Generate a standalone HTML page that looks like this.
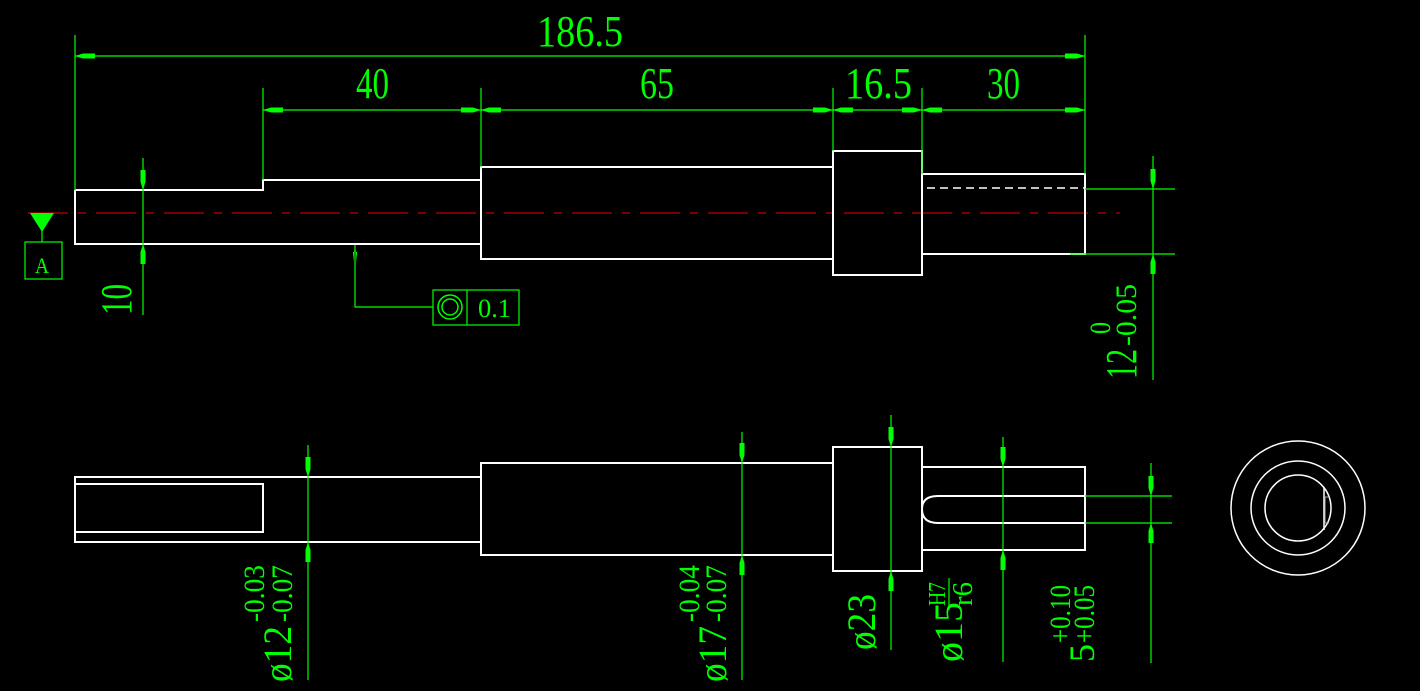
<!DOCTYPE html>
<html><head><meta charset="utf-8"><style>
html,body{margin:0;padding:0;background:#000;width:1420px;height:691px;overflow:hidden}
svg{display:block}
text{font-family:"Liberation Serif",serif;fill:#0f0}
</style></head><body>
<svg width="1420" height="691" viewBox="0 0 1420 691" xmlns="http://www.w3.org/2000/svg">
<defs>
<marker id="a" viewBox="0 0 20 6" refX="20" refY="3" markerWidth="20" markerHeight="6" markerUnits="userSpaceOnUse" orient="auto-start-reverse"><path d="M0,0.5 L12,0.5 L20,3 L12,5.5 L0,5.5Z" fill="#0f0"/></marker>
</defs>
<line x1="28" y1="213" x2="1120" y2="213" stroke="#e00" stroke-width="1" stroke-dasharray="40,10,8,10"/>
<g fill="none" stroke="#fff" stroke-width="2">
<polyline points="75,190 263,190 263,180 481,180"/>
<polyline points="75,190 75,244 481,244"/>
<rect x="481" y="167" width="352" height="92"/>
<rect x="833" y="151" width="89" height="124"/>
<rect x="922" y="174" width="163" height="80"/>
</g>
<line x1="927" y1="188" x2="1085" y2="188" stroke="#fff" stroke-width="1.5" stroke-dasharray="8,5"/>
<g stroke="#0f0" stroke-width="1.2" fill="none">
<line x1="75" y1="35" x2="75" y2="190"/>
<line x1="1085" y1="35" x2="1085" y2="174"/>
<line x1="263" y1="88" x2="263" y2="180"/>
<line x1="481" y1="88" x2="481" y2="167"/>
<line x1="833" y1="88" x2="833" y2="151"/>
<line x1="922" y1="88" x2="922" y2="174"/>
<line x1="75" y1="56" x2="1085" y2="56" marker-start="url(#a)" marker-end="url(#a)"/>
<line x1="263" y1="110" x2="481" y2="110" marker-start="url(#a)" marker-end="url(#a)"/>
<line x1="481" y1="110" x2="833" y2="110" marker-start="url(#a)" marker-end="url(#a)"/>
<line x1="833" y1="110" x2="922" y2="110" marker-start="url(#a)" marker-end="url(#a)"/>
<line x1="922" y1="110" x2="1085" y2="110" marker-start="url(#a)" marker-end="url(#a)"/>
<line x1="143" y1="158" x2="143" y2="190" marker-end="url(#a)"/>
<line x1="143" y1="315" x2="143" y2="244" marker-end="url(#a)"/>
<line x1="143" y1="190" x2="143" y2="244"/>
<line x1="1085" y1="189" x2="1175" y2="189"/>
<line x1="1070" y1="254" x2="1175" y2="254"/>
<line x1="1153" y1="156" x2="1153" y2="189" marker-end="url(#a)"/>
<line x1="1153" y1="380" x2="1153" y2="254" marker-end="url(#a)"/>
<line x1="1153" y1="189" x2="1153" y2="254"/>
<line x1="42" y1="225" x2="42" y2="242"/>
<rect x="25" y="242" width="37" height="37"/>
<polyline points="433,307 355,307 355,245" />
<rect x="433" y="290" width="86" height="35"/>
<line x1="467" y1="290" x2="467" y2="325"/>
<circle cx="450" cy="307" r="12" stroke-width="1.5"/>
<circle cx="450" cy="307" r="8" stroke-width="1.5"/>
</g>
<path d="M355,245 L353,262 L357,262Z M353,252 h4 v10 h-4z" fill="#0f0"/>
<polygon points="30,213 54,213 42,232" fill="#0f0"/>
<text x="35" y="273" font-size="22" textLength="14" lengthAdjust="spacingAndGlyphs">A</text>
<text x="478" y="317" font-size="26" textLength="33" lengthAdjust="spacingAndGlyphs">0.1</text>
<text x="537" y="46" font-size="44" textLength="86" lengthAdjust="spacingAndGlyphs">186.5</text>
<text x="356" y="98" font-size="44" textLength="33" lengthAdjust="spacingAndGlyphs">40</text>
<text x="640" y="98" font-size="44" textLength="34" lengthAdjust="spacingAndGlyphs">65</text>
<text x="845" y="98" font-size="44" textLength="67" lengthAdjust="spacingAndGlyphs">16.5</text>
<text x="987" y="98" font-size="44" textLength="33" lengthAdjust="spacingAndGlyphs">30</text>
<text transform="translate(131,315) rotate(-90)" font-size="44" textLength="31" lengthAdjust="spacingAndGlyphs">10</text>
<text transform="translate(1136,379) rotate(-90)" font-size="44" textLength="30" lengthAdjust="spacingAndGlyphs">12</text>
<text transform="translate(1136,346) rotate(-90)" font-size="30" textLength="62" lengthAdjust="spacingAndGlyphs">-0.05</text>
<text transform="translate(1110,334) rotate(-90)" font-size="30" textLength="12" lengthAdjust="spacingAndGlyphs">0</text>
<g fill="none" stroke="#fff" stroke-width="2">
<polyline points="481,477 75,477 75,542 481,542"/>
<rect x="75" y="484" width="188" height="48"/>
<rect x="481" y="463" width="352" height="92"/>
<rect x="833" y="447" width="89" height="124"/>
<rect x="922" y="467" width="163" height="83"/>
<path d="M1085,496 L938,496 Q922,496 922,509 Q922,523 938,523 L1085,523"/>
<circle cx="1298" cy="508" r="67" stroke-width="1.5"/>
<circle cx="1298" cy="508" r="47" stroke-width="1.5"/>
<circle cx="1298" cy="508" r="33" stroke-width="1.5"/>
<line x1="1324" y1="487" x2="1324" y2="530" stroke-width="1.5"/>
</g>
<path d="M1325,497 h4 M1325,523 h4 M1325,497 v26" stroke="#aaa" stroke-width="1" fill="none"/>
<g stroke="#0f0" stroke-width="1.2" fill="none">
<line x1="308" y1="445" x2="308" y2="477" marker-end="url(#a)"/>
<line x1="308" y1="680" x2="308" y2="542" marker-end="url(#a)"/>
<line x1="308" y1="477" x2="308" y2="542"/>
<line x1="742" y1="432" x2="742" y2="463" marker-end="url(#a)"/>
<line x1="742" y1="680" x2="742" y2="555" marker-end="url(#a)"/>
<line x1="742" y1="463" x2="742" y2="555"/>
<line x1="891" y1="415" x2="891" y2="447" marker-end="url(#a)"/>
<line x1="891" y1="650" x2="891" y2="571" marker-end="url(#a)"/>
<line x1="891" y1="447" x2="891" y2="571"/>
<line x1="1003" y1="437" x2="1003" y2="467" marker-end="url(#a)"/>
<line x1="1003" y1="662" x2="1003" y2="550" marker-end="url(#a)"/>
<line x1="1003" y1="467" x2="1003" y2="550"/>
<line x1="1085" y1="496" x2="1172" y2="496"/>
<line x1="1085" y1="523" x2="1172" y2="523"/>
<line x1="1151" y1="463" x2="1151" y2="496" marker-end="url(#a)"/>
<line x1="1151" y1="663" x2="1151" y2="523" marker-end="url(#a)"/>
<line x1="1151" y1="496" x2="1151" y2="523"/>
<line x1="949" y1="578" x2="949" y2="610"/>
</g>
<text transform="translate(291,682) rotate(-90)" font-size="40" textLength="56" lengthAdjust="spacingAndGlyphs">ø12</text>
<text transform="translate(292,622) rotate(-90)" font-size="30" textLength="57" lengthAdjust="spacingAndGlyphs">-0.07</text>
<text transform="translate(264,622) rotate(-90)" font-size="30" textLength="57" lengthAdjust="spacingAndGlyphs">-0.03</text>
<text transform="translate(726,682) rotate(-90)" font-size="40" textLength="56" lengthAdjust="spacingAndGlyphs">ø17</text>
<text transform="translate(726,622) rotate(-90)" font-size="30" textLength="57" lengthAdjust="spacingAndGlyphs">-0.07</text>
<text transform="translate(699,622) rotate(-90)" font-size="30" textLength="57" lengthAdjust="spacingAndGlyphs">-0.04</text>
<text transform="translate(875,650) rotate(-90)" font-size="40" textLength="56" lengthAdjust="spacingAndGlyphs">ø23</text>
<text transform="translate(962,662) rotate(-90)" font-size="40" textLength="60" lengthAdjust="spacingAndGlyphs">ø15</text>
<text transform="translate(945,606) rotate(-90)" font-size="24" textLength="24" lengthAdjust="spacingAndGlyphs">H7</text>
<text transform="translate(972,606) rotate(-90)" font-size="28" textLength="24" lengthAdjust="spacingAndGlyphs">r6</text>
<text transform="translate(1094,662) rotate(-90)" font-size="36" textLength="18" lengthAdjust="spacingAndGlyphs">5</text>
<text transform="translate(1094,643) rotate(-90)" font-size="30" textLength="58" lengthAdjust="spacingAndGlyphs">+0.05</text>
<text transform="translate(1070,643) rotate(-90)" font-size="30" textLength="58" lengthAdjust="spacingAndGlyphs">+0.10</text>
</svg>
</body></html>
